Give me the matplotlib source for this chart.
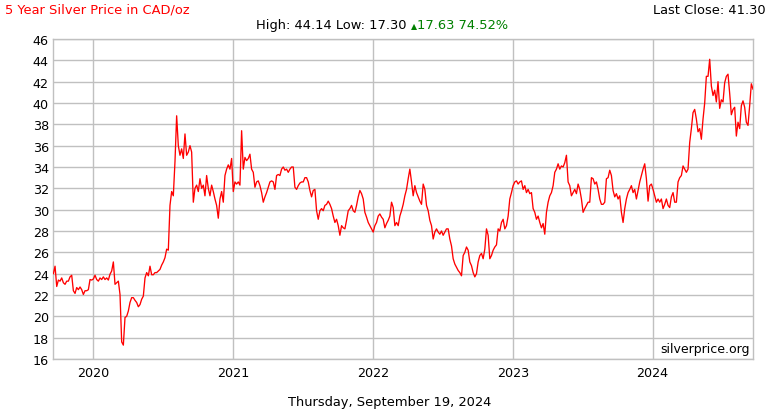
import matplotlib
matplotlib.use("Agg")
import matplotlib.pyplot as plt
import pandas as pd

# Silver price in CAD/oz (roughly evenly spaced samples)
prices_2019_2020 = [
    24.0, 24.7, 22.8, 23.4, 23.3, 23.6, 23.15, 23.0, 23.3, 23.3, 23.7, 23.85, 22.4,
    22.15, 22.7, 22.5, 22.75, 22.5, 22.05, 22.4, 22.4, 22.5, 23.45, 23.4, 23.5, 23.85,
    23.45, 23.3, 23.6, 23.45, 23.7, 23.45, 23.6, 23.4, 23.95, 24.25, 25.1, 23.0, 23.15,
    23.3, 22.05, 17.6, 17.3, 19.9, 20.0, 20.5, 21.3, 21.75, 21.75, 21.5, 21.3, 20.9,
    21.1, 21.6, 21.9, 23.6, 24.1, 23.8, 24.7, 23.9, 23.9, 24.1, 24.1, 24.25, 24.4,
]
prices_2020_2021 = [
    24.8, 25.1, 25.5, 26.3, 26.2, 30.4, 31.7, 31.3, 34.5, 38.8, 36.0, 35.1, 35.7, 34.8,
    37.1, 35.1, 35.4, 36.0, 35.4, 30.7, 32.0, 32.3, 31.7, 32.9, 32.0, 32.3, 31.3, 33.2,
    32.0, 31.3, 32.3, 31.7, 31.0, 30.4, 29.2, 31.0, 31.7, 30.7, 33.2, 33.8, 34.2, 33.8,
    34.8, 31.7, 32.6, 32.4, 32.6, 32.3, 37.4, 33.8, 34.9, 34.6, 34.8,
]
prices_2021_2023 = [
    35.2, 33.8, 33.5, 32.1, 32.6, 32.7, 32.25, 31.6, 30.7, 31.2,
    31.6, 32.1, 32.6, 32.7, 32.6, 31.9, 33.2, 33.3, 33.2, 33.8,
    34.0, 33.7, 33.8, 33.5, 33.8, 34.0, 34.0, 32.1, 31.9, 32.25,
    32.5, 32.6, 32.6, 33.0, 33.0, 32.6, 31.8, 31.2, 31.8, 31.9,
    29.9, 29.1, 29.9, 30.1, 29.9, 30.4, 30.5, 30.8, 30.5, 30.1,
    29.4, 28.8, 29.1, 28.5, 27.6, 28.5, 28.3, 28.2, 29.0, 29.9,
    30.1, 30.4, 29.9, 29.75, 30.4, 31.2, 31.8, 31.5, 31.0, 29.75,
    29.3, 28.8, 28.5, 28.2, 27.9, 28.5, 28.8, 29.4, 29.6, 29.3,
    29.1, 28.3, 28.7, 29.0, 29.4, 30.7, 30.2, 28.5, 28.8, 28.5,
    29.4, 29.9, 30.5, 31.3, 31.9, 32.9, 33.8, 32.6, 31.3, 32.25,
    31.6, 31.2, 30.8, 30.5, 32.4, 31.9, 30.4, 29.9, 29.0, 28.5,
    27.25, 27.9, 28.2, 27.9, 27.7, 28.0, 27.6, 27.9, 28.2, 28.2,
    27.25, 26.6, 25.4, 24.9, 24.6, 24.3, 24.1, 23.8, 25.7, 26.0,
    26.5, 26.2, 25.1, 24.75, 24.1, 23.7, 24.0, 25.1, 25.7, 25.9,
    25.4, 26.3, 28.2, 27.6, 25.4, 25.7, 26.2, 26.5, 26.7, 28.2,
]
prices_2023_2024 = [
    28.0, 28.8, 29.1, 28.2, 28.5, 29.4, 31.0, 31.6, 32.25, 32.6,
    32.7, 32.4, 32.6, 32.7, 31.9, 32.25, 31.6, 31.9, 31.5, 31.6,
    30.1, 29.75, 29.1, 29.4, 28.8, 28.3, 28.7, 27.7, 29.75, 30.7,
    31.3, 31.6, 32.25, 33.5, 33.8, 34.3, 33.8, 34.1, 34.0, 34.4,
    35.1, 32.6, 32.25, 31.3, 31.6, 31.9, 31.5, 32.4, 31.9, 31.0,
    29.75, 30.1, 30.4, 30.7, 30.7, 33.0, 32.9, 32.4, 32.6, 31.9,
    31.0, 30.5, 30.5, 30.7, 32.9, 33.0, 33.7, 33.2, 31.8, 31.2,
    31.5, 31.0, 31.3, 29.75, 28.8, 30.1, 31.0, 31.6, 31.9, 32.25,
    31.6, 31.9, 31.0, 31.8, 32.6, 33.2, 33.8, 34.3, 32.9, 30.8,
    32.25, 32.4, 31.9, 31.3, 30.7, 31.0, 30.7, 31.0, 30.1, 30.5,
    31.0, 30.4, 30.2, 31.2, 31.6, 30.7, 30.7, 32.6, 33.0, 33.2,
    34.1, 33.8, 33.5, 33.8, 36.3, 37.6, 39.1, 39.4, 38.5, 37.3,
    37.6, 36.6, 38.5, 40.0, 42.5, 42.5, 44.1, 41.6, 40.7, 41.2,
    40.1, 42.0, 39.5, 40.3, 40.1, 41.9, 42.5, 42.7, 40.9, 38.9,
    39.4, 39.6, 36.9, 38.2, 37.6, 39.75, 40.2, 39.6, 38.2, 37.9,
    39.75, 41.8, 41.3,
]
prices = prices_2019_2020 + prices_2020_2021 + prices_2021_2023 + prices_2023_2024

start_date = "2019-09-20"
end_date = "2024-09-19"
year_ticks = ["2020", "2021", "2022", "2023", "2024"]
y_ticks = list(range(16, 47, 2))

title_text = "5 Year Silver Price in CAD/oz"
last_close_text = "Last Close: 41.30"
stats_text = "High: 44.14 Low: 17.30 "
change_arrow = "\u25b2"
change_text = "17.63 74.52%"
date_text = "Thursday, September 19, 2024"
watermark = "silverprice.org"

dates = pd.date_range(start_date, end_date, periods=len(prices))

W, H = 770, 410
fig = plt.figure(figsize=(W / 100, H / 100), dpi=100)
left, right, top, bottom = 53, 753, 40, 360
ax = fig.add_axes([left / W, 1 - bottom / H, (right - left) / W, (bottom - top) / H])

grid_c = "#c0c0c0"
ax.plot(dates, prices, color="#ff0000", lw=0.95, zorder=3)

ax.set_ylim(16, 46)
ax.set_yticks(y_ticks)
ax.set_xlim(pd.Timestamp("2019-09-19"), pd.Timestamp(end_date))
ax.set_xticks([pd.Timestamp(y + "-01-01") for y in year_ticks])
ax.set_xticklabels(year_ticks)
ax.grid(True, color=grid_c, lw=1.0, zorder=0)
for s in ax.spines.values():
    s.set_color(grid_c)
    s.set_linewidth(1.0)
ax.tick_params(axis="both", length=0, labelsize=9.2, colors="black", pad=3)
ax.tick_params(axis="x", pad=5)

fs = 9.4
fig.text(5 / W, 1 - 10 / H, title_text, color="#ff0000", fontsize=fs, ha="left", va="center")
fig.text(766 / W, 1 - 10 / H, last_close_text, color="black", fontsize=fs, ha="right", va="center")
base_y = 1 - 29 / H
t1 = fig.text(256 / W, base_y, stats_text, color="black", fontsize=fs, ha="left", va="baseline")
fig.canvas.draw()
r = fig.canvas.get_renderer()
bb = t1.get_window_extent(r)
t2 = fig.text(bb.x1 / W, base_y, change_arrow, color="#008000", fontsize=fs * 0.6,
              ha="left", va="baseline")
fig.canvas.draw()
bb2 = t2.get_window_extent(r)
fig.text(bb2.x1 / W + 0.5 / W, base_y, change_text, color="#008000", fontsize=fs,
         ha="left", va="baseline")
fig.text(390 / W, 1 - 403 / H, date_text, color="black", fontsize=fs, ha="center", va="center")
ax.text(0.995, 0.012, watermark, transform=ax.transAxes, fontsize=9,
        ha="right", va="bottom", color="black", zorder=4)

fig.savefig("out.png", dpi=100)
